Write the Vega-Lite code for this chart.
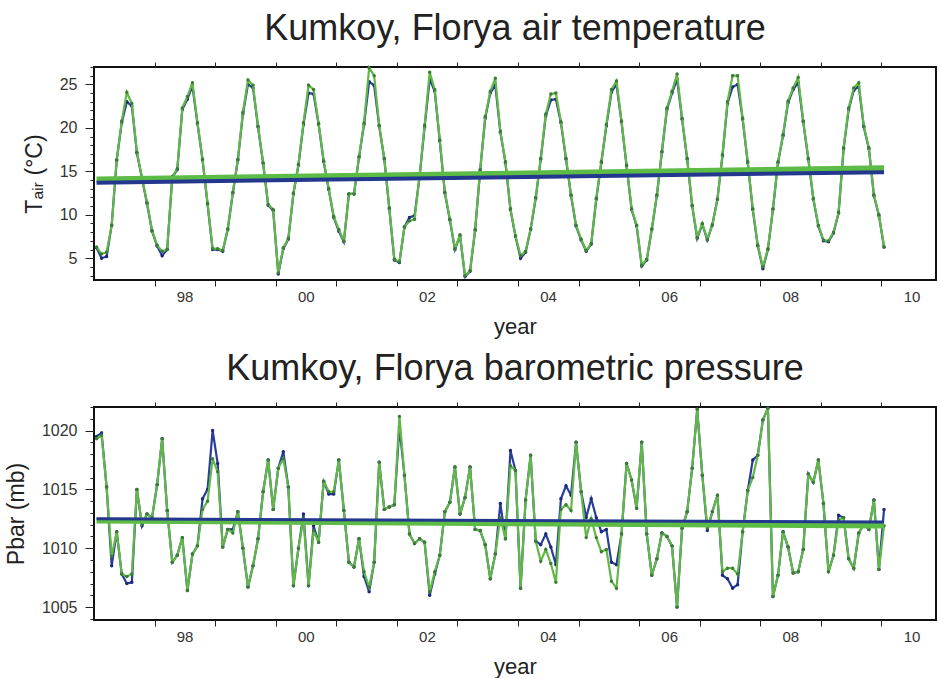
{
  "$schema": "https://vega.github.io/schema/vega-lite/v6.json",
  "background": "white",
  "padding": {"left": 4, "top": 9, "right": 0, "bottom": 0},
  "config": {
    "font": "Liberation Sans",
    "view": {"stroke": "#111111", "strokeWidth": 2},
    "axis": {"domain": false, "grid": false, "labelFont": "Liberation Sans", "labelColor": "#333333", "tickColor": "#222222", "titleFont": "Liberation Sans", "titleFontWeight": "normal", "titleColor": "#222222", "labelOverlap": false, "labelFlush": false},
    "title": {"font": "Liberation Sans", "fontSize": 36, "fontWeight": "normal", "color": "#222222"}
  },
  "datasets": {
    "m": [
      {"t":1997.042,"Tg":6.3,"Tb":6.2,"Pg":1019.3,"Pb":1019.5},
      {"t":1997.125,"Tg":5.5,"Tb":5.0,"Pg":1019.6,"Pb":1019.8},
      {"t":1997.208,"Tg":5.7,"Tb":5.2,"Pg":1015.2,"Pb":1015.2},
      {"t":1997.292,"Tg":8.8,"Tb":8.8,"Pg":1009.3,"Pb":1008.5},
      {"t":1997.375,"Tg":16.3,"Tb":16.3,"Pg":1011.4,"Pb":1011.4},
      {"t":1997.458,"Tg":20.8,"Tb":20.6,"Pg":1007.8,"Pb":1007.8},
      {"t":1997.542,"Tg":24.1,"Tb":23.0,"Pg":1007.6,"Pb":1007.0},
      {"t":1997.625,"Tg":22.8,"Tb":22.5,"Pg":1007.8,"Pb":1007.1},
      {"t":1997.708,"Tg":17.2,"Tb":17.1,"Pg":1015.0,"Pb":1015.0},
      {"t":1997.792,"Tg":14.3,"Tb":14.2,"Pg":1012.1,"Pb":1011.9},
      {"t":1997.875,"Tg":11.4,"Tb":11.3,"Pg":1012.9,"Pb":1012.9},
      {"t":1997.958,"Tg":8.2,"Tb":8.1,"Pg":1012.6,"Pb":1012.6},
      {"t":1998.042,"Tg":6.5,"Tb":6.4,"Pg":1015.4,"Pb":1015.4},
      {"t":1998.125,"Tg":5.8,"Tb":5.3,"Pg":1019.3,"Pb":1019.3},
      {"t":1998.208,"Tg":6.0,"Tb":6.0,"Pg":1013.2,"Pb":1013.2},
      {"t":1998.292,"Tg":14.4,"Tb":14.3,"Pg":1008.8,"Pb":1008.8},
      {"t":1998.375,"Tg":15.3,"Tb":15.2,"Pg":1009.4,"Pb":1009.4},
      {"t":1998.458,"Tg":22.3,"Tb":22.1,"Pg":1010.9,"Pb":1010.9},
      {"t":1998.542,"Tg":23.6,"Tb":23.3,"Pg":1006.4,"Pb":1006.4},
      {"t":1998.625,"Tg":25.2,"Tb":24.8,"Pg":1009.5,"Pb":1009.5},
      {"t":1998.708,"Tg":20.6,"Tb":20.5,"Pg":1010.2,"Pb":1010.2},
      {"t":1998.792,"Tg":16.4,"Tb":16.3,"Pg":1013.3,"Pb":1014.2},
      {"t":1998.875,"Tg":11.3,"Tb":11.2,"Pg":1014.0,"Pb":1015.0},
      {"t":1998.958,"Tg":6.1,"Tb":6.0,"Pg":1017.6,"Pb":1020.0},
      {"t":1999.042,"Tg":6.1,"Tb":6.0,"Pg":1016.5,"Pb":1017.2},
      {"t":1999.125,"Tg":5.9,"Tb":5.8,"Pg":1010.1,"Pb":1010.1},
      {"t":1999.208,"Tg":8.4,"Tb":8.3,"Pg":1011.6,"Pb":1011.6},
      {"t":1999.292,"Tg":12.6,"Tb":12.5,"Pg":1011.3,"Pb":1011.6},
      {"t":1999.375,"Tg":16.4,"Tb":16.3,"Pg":1013.1,"Pb":1013.1},
      {"t":1999.458,"Tg":21.8,"Tb":21.6,"Pg":1010.0,"Pb":1010.0},
      {"t":1999.542,"Tg":25.5,"Tb":25.0,"Pg":1006.7,"Pb":1006.7},
      {"t":1999.625,"Tg":24.9,"Tb":24.6,"Pg":1008.5,"Pb":1008.5},
      {"t":1999.708,"Tg":20.2,"Tb":20.1,"Pg":1010.8,"Pb":1010.8},
      {"t":1999.792,"Tg":16.0,"Tb":15.9,"Pg":1014.8,"Pb":1014.8},
      {"t":1999.875,"Tg":11.2,"Tb":11.1,"Pg":1017.5,"Pb":1017.5},
      {"t":1999.958,"Tg":10.6,"Tb":10.5,"Pg":1013.3,"Pb":1013.3},
      {"t":2000.042,"Tg":3.3,"Tb":3.2,"Pg":1016.8,"Pb":1016.8},
      {"t":2000.125,"Tg":6.2,"Tb":6.1,"Pg":1017.6,"Pb":1018.2},
      {"t":2000.208,"Tg":7.3,"Tb":7.2,"Pg":1015.2,"Pb":1015.2},
      {"t":2000.292,"Tg":12.5,"Tb":12.4,"Pg":1006.8,"Pb":1006.8},
      {"t":2000.375,"Tg":15.8,"Tb":15.7,"Pg":1010.0,"Pb":1010.0},
      {"t":2000.458,"Tg":20.6,"Tb":20.4,"Pg":1012.5,"Pb":1012.9},
      {"t":2000.542,"Tg":24.9,"Tb":24.0,"Pg":1006.8,"Pb":1006.8},
      {"t":2000.625,"Tg":24.4,"Tb":23.9,"Pg":1011.5,"Pb":1011.9},
      {"t":2000.708,"Tg":20.5,"Tb":20.4,"Pg":1010.5,"Pb":1010.5},
      {"t":2000.792,"Tg":16.2,"Tb":16.1,"Pg":1015.7,"Pb":1015.7},
      {"t":2000.875,"Tg":13.0,"Tb":12.9,"Pg":1014.8,"Pb":1014.6},
      {"t":2000.958,"Tg":9.8,"Tb":9.7,"Pg":1014.8,"Pb":1014.6},
      {"t":2001.042,"Tg":8.3,"Tb":8.1,"Pg":1017.5,"Pb":1017.5},
      {"t":2001.125,"Tg":7.0,"Tb":6.9,"Pg":1013.2,"Pb":1013.2},
      {"t":2001.208,"Tg":12.4,"Tb":12.4,"Pg":1008.8,"Pb":1008.8},
      {"t":2001.292,"Tg":12.4,"Tb":12.4,"Pg":1008.4,"Pb":1008.4},
      {"t":2001.375,"Tg":16.7,"Tb":16.6,"Pg":1010.8,"Pb":1010.8},
      {"t":2001.458,"Tg":20.6,"Tb":20.4,"Pg":1008.0,"Pb":1007.6},
      {"t":2001.542,"Tg":26.9,"Tb":25.3,"Pg":1006.7,"Pb":1006.3},
      {"t":2001.625,"Tg":26.0,"Tb":24.9,"Pg":1008.8,"Pb":1008.8},
      {"t":2001.708,"Tg":20.3,"Tb":20.2,"Pg":1017.3,"Pb":1017.3},
      {"t":2001.792,"Tg":16.5,"Tb":16.4,"Pg":1013.3,"Pb":1013.3},
      {"t":2001.875,"Tg":10.8,"Tb":10.7,"Pg":1013.5,"Pb":1013.5},
      {"t":2001.958,"Tg":4.9,"Tb":4.8,"Pg":1013.7,"Pb":1013.7},
      {"t":2002.042,"Tg":4.6,"Tb":4.5,"Pg":1021.2,"Pb":1020.3},
      {"t":2002.125,"Tg":8.6,"Tb":8.6,"Pg":1016.2,"Pb":1016.2},
      {"t":2002.208,"Tg":9.3,"Tb":9.7,"Pg":1011.2,"Pb":1011.2},
      {"t":2002.292,"Tg":9.5,"Tb":9.9,"Pg":1010.4,"Pb":1010.4},
      {"t":2002.375,"Tg":14.5,"Tb":14.4,"Pg":1010.8,"Pb":1010.8},
      {"t":2002.458,"Tg":20.3,"Tb":20.1,"Pg":1010.5,"Pb":1010.5},
      {"t":2002.542,"Tg":26.4,"Tb":25.6,"Pg":1006.3,"Pb":1006.0},
      {"t":2002.625,"Tg":24.4,"Tb":24.2,"Pg":1008.0,"Pb":1007.8},
      {"t":2002.708,"Tg":18.6,"Tb":18.5,"Pg":1009.4,"Pb":1009.4},
      {"t":2002.792,"Tg":12.6,"Tb":12.5,"Pg":1013.1,"Pb":1013.1},
      {"t":2002.875,"Tg":9.5,"Tb":9.4,"Pg":1013.9,"Pb":1013.9},
      {"t":2002.958,"Tg":6.1,"Tb":6.0,"Pg":1016.9,"Pb":1016.9},
      {"t":2003.042,"Tg":7.7,"Tb":7.6,"Pg":1012.9,"Pb":1012.9},
      {"t":2003.125,"Tg":3.0,"Tb":2.9,"Pg":1014.3,"Pb":1014.3},
      {"t":2003.208,"Tg":3.6,"Tb":3.5,"Pg":1016.9,"Pb":1016.9},
      {"t":2003.292,"Tg":8.3,"Tb":8.2,"Pg":1011.6,"Pb":1011.6},
      {"t":2003.375,"Tg":15.2,"Tb":15.1,"Pg":1011.5,"Pb":1011.5},
      {"t":2003.458,"Tg":21.3,"Tb":21.1,"Pg":1010.3,"Pb":1010.3},
      {"t":2003.542,"Tg":24.2,"Tb":24.0,"Pg":1007.4,"Pb":1007.4},
      {"t":2003.625,"Tg":25.7,"Tb":24.9,"Pg":1009.5,"Pb":1009.5},
      {"t":2003.708,"Tg":19.6,"Tb":19.5,"Pg":1012.6,"Pb":1013.8},
      {"t":2003.792,"Tg":16.1,"Tb":16.0,"Pg":1010.8,"Pb":1010.8},
      {"t":2003.875,"Tg":10.7,"Tb":10.6,"Pg":1017.0,"Pb":1018.3},
      {"t":2003.958,"Tg":7.6,"Tb":7.5,"Pg":1016.6,"Pb":1016.6},
      {"t":2004.042,"Tg":5.3,"Tb":5.0,"Pg":1006.6,"Pb":1006.6},
      {"t":2004.125,"Tg":5.8,"Tb":5.7,"Pg":1014.1,"Pb":1014.1},
      {"t":2004.208,"Tg":8.4,"Tb":8.3,"Pg":1017.9,"Pb":1017.9},
      {"t":2004.292,"Tg":12.0,"Tb":11.9,"Pg":1010.6,"Pb":1010.6},
      {"t":2004.375,"Tg":16.5,"Tb":16.4,"Pg":1008.9,"Pb":1010.3},
      {"t":2004.458,"Tg":21.6,"Tb":21.4,"Pg":1009.9,"Pb":1011.2},
      {"t":2004.542,"Tg":23.9,"Tb":23.2,"Pg":1008.7,"Pb":1010.1},
      {"t":2004.625,"Tg":24.0,"Tb":23.3,"Pg":1007.1,"Pb":1008.6},
      {"t":2004.708,"Tg":20.7,"Tb":20.6,"Pg":1013.3,"Pb":1014.2},
      {"t":2004.792,"Tg":16.5,"Tb":16.4,"Pg":1013.7,"Pb":1015.3},
      {"t":2004.875,"Tg":12.3,"Tb":12.2,"Pg":1013.2,"Pb":1014.5},
      {"t":2004.958,"Tg":8.8,"Tb":8.7,"Pg":1019.0,"Pb":1019.0},
      {"t":2005.042,"Tg":7.2,"Tb":7.1,"Pg":1014.8,"Pb":1014.8},
      {"t":2005.125,"Tg":5.9,"Tb":5.8,"Pg":1010.9,"Pb":1012.6},
      {"t":2005.208,"Tg":6.7,"Tb":6.6,"Pg":1012.5,"Pb":1014.2},
      {"t":2005.292,"Tg":11.9,"Tb":11.8,"Pg":1010.9,"Pb":1012.6},
      {"t":2005.375,"Tg":16.1,"Tb":16.0,"Pg":1009.7,"Pb":1011.4},
      {"t":2005.458,"Tg":20.4,"Tb":20.2,"Pg":1009.9,"Pb":1011.6},
      {"t":2005.542,"Tg":24.4,"Tb":24.1,"Pg":1007.2,"Pb":1008.8},
      {"t":2005.625,"Tg":25.4,"Tb":25.0,"Pg":1006.6,"Pb":1008.6},
      {"t":2005.708,"Tg":20.8,"Tb":20.7,"Pg":1011.2,"Pb":1011.2},
      {"t":2005.792,"Tg":15.7,"Tb":15.6,"Pg":1017.2,"Pb":1017.2},
      {"t":2005.875,"Tg":10.7,"Tb":10.6,"Pg":1015.8,"Pb":1015.8},
      {"t":2005.958,"Tg":8.8,"Tb":8.7,"Pg":1013.4,"Pb":1013.4},
      {"t":2006.042,"Tg":4.2,"Tb":4.1,"Pg":1019.0,"Pb":1019.0},
      {"t":2006.125,"Tg":4.9,"Tb":4.8,"Pg":1011.2,"Pb":1011.2},
      {"t":2006.208,"Tg":8.4,"Tb":8.3,"Pg":1007.7,"Pb":1007.7},
      {"t":2006.292,"Tg":12.3,"Tb":12.2,"Pg":1009.1,"Pb":1009.1},
      {"t":2006.375,"Tg":17.3,"Tb":17.2,"Pg":1011.3,"Pb":1011.3},
      {"t":2006.458,"Tg":22.3,"Tb":22.1,"Pg":1011.0,"Pb":1011.0},
      {"t":2006.542,"Tg":24.2,"Tb":24.0,"Pg":1010.2,"Pb":1010.2},
      {"t":2006.625,"Tg":26.2,"Tb":25.6,"Pg":1005.0,"Pb":1005.0},
      {"t":2006.708,"Tg":21.1,"Tb":21.0,"Pg":1011.7,"Pb":1011.7},
      {"t":2006.792,"Tg":16.5,"Tb":16.4,"Pg":1013.1,"Pb":1013.1},
      {"t":2006.875,"Tg":11.1,"Tb":11.0,"Pg":1016.8,"Pb":1016.8},
      {"t":2006.958,"Tg":7.4,"Tb":7.3,"Pg":1021.8,"Pb":1021.8},
      {"t":2007.042,"Tg":9.0,"Tb":8.9,"Pg":1016.2,"Pb":1016.2},
      {"t":2007.125,"Tg":7.2,"Tb":7.1,"Pg":1011.7,"Pb":1011.5},
      {"t":2007.208,"Tg":8.8,"Tb":8.9,"Pg":1013.1,"Pb":1013.1},
      {"t":2007.292,"Tg":11.8,"Tb":11.8,"Pg":1014.5,"Pb":1014.5},
      {"t":2007.375,"Tg":16.9,"Tb":16.8,"Pg":1008.0,"Pb":1007.7},
      {"t":2007.458,"Tg":23.0,"Tb":22.8,"Pg":1008.3,"Pb":1007.4},
      {"t":2007.542,"Tg":26.0,"Tb":24.7,"Pg":1008.3,"Pb":1006.6},
      {"t":2007.625,"Tg":26.0,"Tb":25.0,"Pg":1007.8,"Pb":1006.9},
      {"t":2007.708,"Tg":21.1,"Tb":21.0,"Pg":1011.4,"Pb":1011.4},
      {"t":2007.792,"Tg":16.1,"Tb":16.0,"Pg":1014.9,"Pb":1014.9},
      {"t":2007.875,"Tg":10.7,"Tb":10.6,"Pg":1016.0,"Pb":1017.5},
      {"t":2007.958,"Tg":6.5,"Tb":6.4,"Pg":1017.9,"Pb":1017.9},
      {"t":2008.042,"Tg":4.0,"Tb":3.8,"Pg":1020.9,"Pb":1020.9},
      {"t":2008.125,"Tg":6.1,"Tb":6.0,"Pg":1021.9,"Pb":1021.9},
      {"t":2008.208,"Tg":10.7,"Tb":10.6,"Pg":1005.9,"Pb":1005.9},
      {"t":2008.292,"Tg":16.1,"Tb":16.0,"Pg":1007.7,"Pb":1007.7},
      {"t":2008.375,"Tg":19.2,"Tb":19.1,"Pg":1011.4,"Pb":1011.4},
      {"t":2008.458,"Tg":23.1,"Tb":22.9,"Pg":1010.1,"Pb":1010.1},
      {"t":2008.542,"Tg":24.6,"Tb":24.4,"Pg":1007.9,"Pb":1007.9},
      {"t":2008.625,"Tg":25.8,"Tb":25.2,"Pg":1008.0,"Pb":1008.0},
      {"t":2008.708,"Tg":20.8,"Tb":20.7,"Pg":1009.9,"Pb":1009.9},
      {"t":2008.792,"Tg":16.5,"Tb":16.4,"Pg":1016.3,"Pb":1016.3},
      {"t":2008.875,"Tg":11.9,"Tb":11.8,"Pg":1015.6,"Pb":1015.6},
      {"t":2008.958,"Tg":8.8,"Tb":8.7,"Pg":1017.5,"Pb":1017.5},
      {"t":2009.042,"Tg":7.1,"Tb":7.0,"Pg":1013.8,"Pb":1013.8},
      {"t":2009.125,"Tg":7.0,"Tb":6.9,"Pg":1008.0,"Pb":1008.0},
      {"t":2009.208,"Tg":8.0,"Tb":7.9,"Pg":1009.4,"Pb":1009.4},
      {"t":2009.292,"Tg":10.3,"Tb":10.2,"Pg":1012.4,"Pb":1012.8},
      {"t":2009.375,"Tg":17.7,"Tb":17.6,"Pg":1012.6,"Pb":1012.6},
      {"t":2009.458,"Tg":22.3,"Tb":22.1,"Pg":1009.1,"Pb":1009.1},
      {"t":2009.542,"Tg":24.6,"Tb":24.3,"Pg":1008.3,"Pb":1008.3},
      {"t":2009.625,"Tg":25.2,"Tb":24.8,"Pg":1011.3,"Pb":1011.3},
      {"t":2009.708,"Tg":20.2,"Tb":20.1,"Pg":1012.0,"Pb":1012.0},
      {"t":2009.792,"Tg":17.7,"Tb":17.6,"Pg":1011.6,"Pb":1011.6},
      {"t":2009.875,"Tg":12.3,"Tb":12.2,"Pg":1014.1,"Pb":1014.1},
      {"t":2009.958,"Tg":10.0,"Tb":9.9,"Pg":1008.2,"Pb":1008.2},
      {"t":2010.042,"Tg":6.3,"Tb":6.3,"Pg":1011.9,"Pb":1013.3}
    ],
    "tr": [
      {"t":1997.042,"Tg":14.05,"Tb":13.7,"Pg":1012.35,"Pb":1012.5},
      {"t":2010.042,"Tg":15.35,"Tb":14.9,"Pg":1011.92,"Pb":1012.22}
    ]
  },
  "spacing": 127,
  "bounds": "flush",
  "vconcat": [
    {
      "width": 842,
      "height": 213,
      "title": {"text": "Kumkoy, Florya air temperature", "offset": -14, "baseline": "alphabetic"},
      "data": {"name": "m"},
      "layer": [
        {
          "mark": {"type": "line", "color": "#2a3d9a", "strokeWidth": 2.2},
          "encoding": {
            "x": {"field": "t", "type": "quantitative", "scale": {"domain": [1997, 2010.9], "nice": false, "zero": false},
              "axis": {"orient": "bottom", "values": [1998,1999,2000,2001,2002,2003,2004,2005,2006,2007,2008,2009,2010], "labelExpr": "datum.value % 2 == 0 ? substring(toString(datum.value), 2, 4) : ''", "labelOffset": 30, "tickSize": 6, "labelPadding": 3, "labelFontSize": 15, "title": "year", "titleFontSize": 22, "titlePadding": 12}},
            "y": {"field": "Tb", "type": "quantitative", "scale": {"domain": [2.5, 27], "nice": false, "zero": false},
              "axis": {"orient": "left", "values": [5,10,15,20,25], "format": "d", "tickSize": 9, "labelPadding": 8, "labelFontSize": 16, "title": "Tₐᵢᵣ (°C)", "titleFontSize": 23, "titlePadding": 13}}
          }
        },
        {
          "mark": {"type": "point", "filled": true, "size": 12, "color": "#1b2a78", "opacity": 1},
          "encoding": {"x": {"field": "t", "type": "quantitative", "axis": null}, "y": {"field": "Tb", "type": "quantitative", "axis": null}}
        },
        {
          "mark": {"type": "line", "color": "#62b847", "strokeWidth": 2.2},
          "encoding": {"x": {"field": "t", "type": "quantitative", "axis": null}, "y": {"field": "Tg", "type": "quantitative", "axis": null}}
        },
        {
          "mark": {"type": "point", "filled": true, "size": 12, "color": "#3a7d33", "opacity": 1},
          "encoding": {"x": {"field": "t", "type": "quantitative", "axis": null}, "y": {"field": "Tg", "type": "quantitative", "axis": null}}
        },
        {
          "data": {"name": "tr"},
          "mark": {"type": "line", "color": "#5cbc46", "strokeWidth": 6},
          "encoding": {
            "x": {"field": "t", "type": "quantitative", "axis": {"orient": "top", "values": [1998,1999,2000,2001,2002,2003,2004,2005,2006,2007,2008,2009,2010], "labels": false, "tickSize": 5, "title": null}},
            "y": {"field": "Tg", "type": "quantitative", "axis": {"orient": "left", "values": [3,4,5,6,7,8,9,10,11,12,13,14,15,16,17,18,19,20,21,22,23,24,25,26,27], "labels": false, "tickSize": 4, "title": null}}
          }
        },
        {
          "data": {"name": "tr"},
          "mark": {"type": "line", "color": "#23378f", "strokeWidth": 4},
          "encoding": {"x": {"field": "t", "type": "quantitative", "axis": null}, "y": {"field": "Tb", "type": "quantitative", "axis": null}}
        }
      ],
      "resolve": {"axis": {"x": "independent", "y": "independent"}}
    },
    {
      "width": 842,
      "height": 213,
      "title": {"text": "Kumkoy, Florya barometric pressure", "offset": -14, "baseline": "alphabetic"},
      "data": {"name": "m"},
      "layer": [
        {
          "mark": {"type": "line", "color": "#2a3d9a", "strokeWidth": 2.2},
          "encoding": {
            "x": {"field": "t", "type": "quantitative", "scale": {"domain": [1997, 2010.9], "nice": false, "zero": false},
              "axis": {"orient": "bottom", "values": [1998,1999,2000,2001,2002,2003,2004,2005,2006,2007,2008,2009,2010], "labelExpr": "datum.value % 2 == 0 ? substring(toString(datum.value), 2, 4) : ''", "labelOffset": 30, "tickSize": 6, "labelPadding": 3, "labelFontSize": 15, "title": "year", "titleFontSize": 22, "titlePadding": 12}},
            "y": {"field": "Pb", "type": "quantitative", "scale": {"domain": [1003.9, 1022], "nice": false, "zero": false},
              "axis": {"orient": "left", "values": [1005,1010,1015,1020], "format": "d", "tickSize": 9, "labelPadding": 8, "labelFontSize": 16, "title": "Pbar (mb)", "titleFontSize": 23, "titlePadding": 13}}
          }
        },
        {
          "mark": {"type": "point", "filled": true, "size": 12, "color": "#1b2a78", "opacity": 1},
          "encoding": {"x": {"field": "t", "type": "quantitative", "axis": null}, "y": {"field": "Pb", "type": "quantitative", "axis": null}}
        },
        {
          "mark": {"type": "line", "color": "#62b847", "strokeWidth": 2.2},
          "encoding": {"x": {"field": "t", "type": "quantitative", "axis": null}, "y": {"field": "Pg", "type": "quantitative", "axis": null}}
        },
        {
          "mark": {"type": "point", "filled": true, "size": 12, "color": "#3a7d33", "opacity": 1},
          "encoding": {"x": {"field": "t", "type": "quantitative", "axis": null}, "y": {"field": "Pg", "type": "quantitative", "axis": null}}
        },
        {
          "data": {"name": "tr"},
          "mark": {"type": "line", "color": "#5cbc46", "strokeWidth": 6},
          "encoding": {
            "x": {"field": "t", "type": "quantitative", "axis": {"orient": "top", "values": [1998,1999,2000,2001,2002,2003,2004,2005,2006,2007,2008,2009,2010], "labels": false, "tickSize": 5, "title": null}},
            "y": {"field": "Pg", "type": "quantitative", "axis": {"orient": "left", "values": [1004,1005,1006,1007,1008,1009,1010,1011,1012,1013,1014,1015,1016,1017,1018,1019,1020,1021,1022], "labels": false, "tickSize": 4, "title": null}}
          }
        },
        {
          "data": {"name": "tr"},
          "mark": {"type": "line", "color": "#23378f", "strokeWidth": 3},
          "encoding": {"x": {"field": "t", "type": "quantitative", "axis": null}, "y": {"field": "Pb", "type": "quantitative", "axis": null}}
        }
      ],
      "resolve": {"axis": {"x": "independent", "y": "independent"}}
    }
  ]
}
